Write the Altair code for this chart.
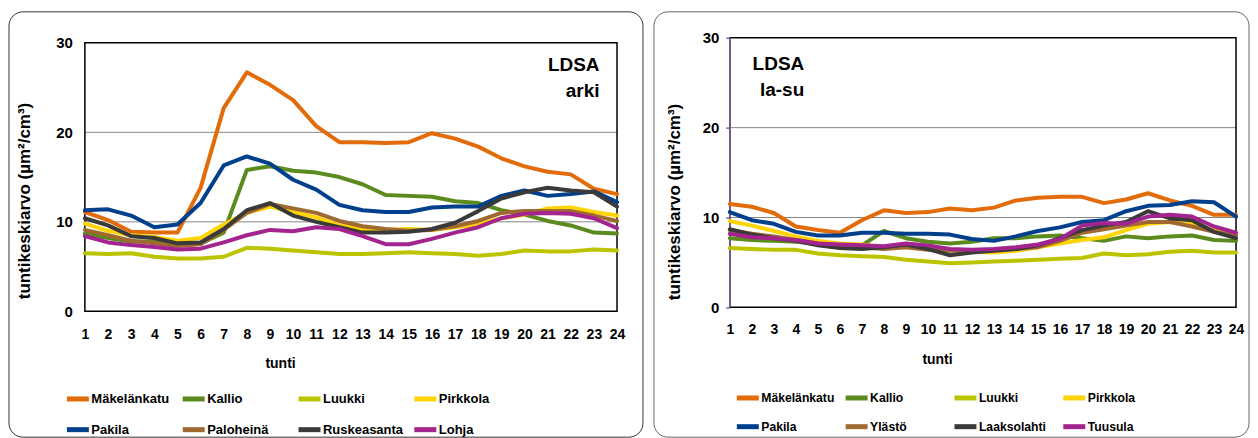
import altair as alt
import pandas as pd

# ---------------- data ----------------
hours = list(range(1, 25))
y_ticks = [0, 10, 20, 30]
grid_values = [10, 20]

left_names = ["Mäkelänkatu", "Kallio", "Luukki", "Pirkkola", "Pakila", "Paloheinä", "Ruskeasanta", "Lohja"]
right_names = ["Mäkelänkatu", "Kallio", "Luukki", "Pirkkola", "Pakila", "Ylästö", "Laaksolahti", "Tuusula"]
colors = ["#E36C0A", "#5B8A1E", "#BCC400", "#FFD400", "#003F8C", "#A0692F", "#3A3A3A", "#A3238F"]

left_label = ["LDSA", "arki"]
right_label = ["LDSA", "la-su"]
x_title = "tunti"
y_title = "tuntikeskiarvo (µm²/cm³)"

# weekday (arki)
arki_makelankatu = [11.1, 10.2, 8.9, 8.8, 8.8, 13.8, 22.7, 26.7, 25.3, 23.6, 20.7, 18.9, 18.9, 18.8, 18.9, 19.9, 19.3, 18.4, 17.1, 16.2, 15.6, 15.3, 13.7, 13.1]
arki_kallio = [8.7, 8.2, 7.8, 7.8, 7.4, 7.6, 8.8, 15.8, 16.2, 15.7, 15.5, 15.0, 14.2, 13.0, 12.9, 12.8, 12.3, 12.1, 11.3, 10.8, 10.1, 9.6, 8.8, 8.7]
arki_luukki = [6.5, 6.4, 6.5, 6.1, 5.9, 5.9, 6.1, 7.1, 7.0, 6.8, 6.6, 6.4, 6.4, 6.5, 6.6, 6.5, 6.4, 6.2, 6.4, 6.8, 6.7, 6.7, 6.9, 6.8]
arki_pirkkola = [9.8, 9.0, 8.5, 8.3, 7.9, 8.2, 9.7, 11.0, 11.7, 11.1, 10.5, 9.6, 9.2, 9.1, 9.2, 9.1, 9.4, 9.7, 10.4, 10.8, 11.5, 11.6, 11.1, 10.7]
arki_pakila = [11.3, 11.4, 10.7, 9.4, 9.7, 12.1, 16.3, 17.3, 16.5, 14.7, 13.6, 11.9, 11.3, 11.1, 11.1, 11.6, 11.7, 11.7, 12.9, 13.5, 12.9, 13.1, 13.4, 12.2]
arki_paloheina = [9.1, 8.5, 7.9, 7.6, 7.3, 7.5, 9.1, 11.0, 12.0, 11.5, 11.0, 10.1, 9.5, 9.2, 9.0, 9.1, 9.5, 10.1, 11.0, 11.2, 11.2, 11.2, 10.7, 10.1]
arki_ruskeasanta = [10.4, 9.6, 8.4, 8.2, 7.6, 7.7, 9.2, 11.3, 12.1, 10.7, 10.0, 9.4, 8.8, 8.8, 8.9, 9.2, 9.9, 11.2, 12.6, 13.3, 13.8, 13.5, 13.3, 11.7]
arki_lohja = [8.4, 7.7, 7.4, 7.2, 6.9, 7.0, 7.7, 8.5, 9.1, 8.95, 9.4, 9.2, 8.4, 7.5, 7.5, 8.1, 8.8, 9.4, 10.4, 10.9, 11.0, 10.9, 10.4, 9.3]

# weekend (la-su)
lasu_makelankatu = [11.5, 11.2, 10.5, 9.0, 8.6, 8.3, 9.7, 10.8, 10.5, 10.6, 11.0, 10.8, 11.1, 11.9, 12.2, 12.3, 12.3, 11.6, 12.0, 12.7, 11.9, 11.3, 10.3, 10.3]
lasu_kallio = [7.7, 7.5, 7.4, 7.3, 7.1, 6.9, 6.9, 8.5, 7.7, 7.3, 7.1, 7.3, 7.7, 7.7, 7.9, 8.0, 7.7, 7.4, 7.9, 7.7, 7.9, 8.0, 7.5, 7.4]
lasu_luukki = [6.6, 6.5, 6.4, 6.4, 6.0, 5.8, 5.7, 5.6, 5.3, 5.1, 4.9, 5.0, 5.1, 5.2, 5.3, 5.4, 5.5, 6.0, 5.8, 5.9, 6.2, 6.3, 6.1, 6.1]
lasu_pirkkola = [9.6, 9.1, 8.5, 7.9, 7.4, 7.1, 7.0, 6.7, 6.7, 6.6, 6.4, 6.2, 6.1, 6.3, 6.7, 7.1, 7.5, 7.8, 8.6, 9.3, 9.5, 9.3, 8.6, 8.2]
lasu_pakila = [10.6, 9.7, 9.3, 8.4, 8.0, 8.0, 8.3, 8.3, 8.2, 8.2, 8.1, 7.6, 7.4, 7.9, 8.5, 8.9, 9.5, 9.7, 10.7, 11.3, 11.4, 11.8, 11.7, 10.1]
lasu_ylasto = [8.6, 8.2, 7.9, 7.5, 7.1, 6.9, 6.7, 6.5, 6.7, 6.4, 6.3, 6.3, 6.4, 6.5, 6.7, 7.4, 8.3, 8.7, 9.1, 9.5, 9.5, 9.0, 8.4, 8.0]
lasu_laaksolahti = [8.7, 8.1, 7.7, 7.4, 6.9, 6.6, 6.5, 6.7, 7.0, 6.5, 5.8, 6.1, 6.3, 6.5, 6.9, 7.7, 8.6, 9.1, 9.5, 10.7, 9.9, 9.7, 8.4, 7.7]
lasu_tuusula = [8.2, 7.8, 7.7, 7.5, 7.1, 7.0, 6.9, 6.8, 7.1, 6.9, 6.5, 6.4, 6.5, 6.7, 7.0, 7.6, 9.1, 9.4, 9.3, 10.1, 10.3, 10.1, 9.0, 8.3]

left_series = [arki_makelankatu, arki_kallio, arki_luukki, arki_pirkkola,
               arki_pakila, arki_paloheina, arki_ruskeasanta, arki_lohja]
right_series = [lasu_makelankatu, lasu_kallio, lasu_luukki, lasu_pirkkola,
                lasu_pakila, lasu_ylasto, lasu_laaksolahti, lasu_tuusula]

FONT = "Liberation Sans, Arial, sans-serif"
PURPLE = "#7E5AA2"


def long_df(names, series):
    rows = []
    for n, vals in zip(names, series):
        for h, v in zip(hours, vals):
            rows.append({"station": n, "hour": h, "val": v})
    return pd.DataFrame(rows)


def panel(names, series, labels, w, view_h, plot_top, frame, legend_pos, col_pad, row_pad,
          leg_font, ann_x, ann_y, xlab_pad, xtitle_x, ytitle_x, ytitle_y, purple_axis, frame_color):
    df = long_df(names, series)
    xscale = alt.Scale(domain=[1, 24], nice=False, zero=False)
    yscale = alt.Scale(domain=[0, 30], nice=False, range=[view_h, plot_top])
    x_axis = alt.Axis(values=hours, format="d", title=x_title, grid=False,
                      ticks=False, domain=False, labelFlush=False, labelOverlap=False,
                      labelFont=FONT, labelFontSize=14, labelFontWeight="bold",
                      labelColor="black", labelPadding=xlab_pad,
                      titleFont=FONT, titleFontSize=14, titleFontWeight="bold",
                      titleColor="black", titleX=xtitle_x, titleY=56,
                      titleBaseline="alphabetic", titleAlign="center")
    y_kw = dict(values=y_ticks, title=y_title, grid=False, domain=False,
                labelFont=FONT, labelFontSize=15, labelFontWeight="bold",
                labelColor="black", labelBaseline="middle",
                titleFont=FONT, titleFontSize=17, titleFontWeight="bold",
                titleColor="black", titleAngle=270, titleX=ytitle_x, titleY=ytitle_y,
                titleAlign="center", titleBaseline="middle")
    if purple_axis:
        y_kw.update(ticks=True, tickColor=PURPLE, tickSize=4, tickWidth=1.5,
                    labelPadding=7, zindex=1)
    else:
        y_kw.update(ticks=False, labelPadding=12.5)
    y_axis = alt.Axis(**y_kw)

    legend = alt.Legend(orient="none", legendX=legend_pos[0], legendY=legend_pos[1],
                        columns=4, direction="horizontal", title=None,
                        symbolType="stroke", symbolSize=484,
                        symbolStrokeWidth=5, labelFont=FONT, labelFontSize=leg_font,
                        labelFontWeight="bold", labelColor="black", labelOffset=0,
                        columnPadding=col_pad, rowPadding=row_pad, gridAlign="all",
                        padding=0, labelLimit=300)
    color = alt.Color("station:N", scale=alt.Scale(domain=names, range=colors), legend=legend)
    x_enc = alt.X("hour:Q", scale=xscale, axis=x_axis)
    y_enc = alt.Y("val:Q", scale=yscale, axis=y_axis)

    layers = []
    # rounded outer frame
    layers.append(
        alt.Chart(alt.Data(values=[{}])).mark_rect(
            filled=False, stroke=frame_color, strokeWidth=1, cornerRadius=14
        ).encode(x=alt.value(frame[0]), x2=alt.value(frame[1]),
                 y=alt.value(frame[2]), y2=alt.value(frame[3]))
    )
    # grid lines
    layers.append(
        alt.Chart(pd.DataFrame({"val": grid_values})).mark_rule(
            color="#858585", strokeWidth=1
        ).encode(y=y_enc)
    )
    # plot-area border
    layers.append(
        alt.Chart(alt.Data(values=[{}])).mark_rect(
            filled=False, stroke="black", strokeWidth=1.5
        ).encode(x=alt.value(0), x2=alt.value(w),
                 y=alt.value(plot_top), y2=alt.value(view_h))
    )
    if purple_axis:
        layers.append(
            alt.Chart(alt.Data(values=[{}])).mark_rule(
                color=PURPLE, strokeWidth=1.5
            ).encode(x=alt.value(0), y=alt.value(plot_top), y2=alt.value(view_h))
        )
    for n in names:
        layers.append(
            alt.Chart(df).transform_filter(alt.datum.station == n).mark_line(
                strokeWidth=4, strokeJoin="round", strokeCap="round"
            ).encode(x=x_enc, y=y_enc, color=color)
        )
    for i, txt in enumerate(labels):
        layers.append(
            alt.Chart(alt.Data(values=[{}])).mark_text(
                align="right", baseline="middle", font=FONT, fontSize=19,
                fontWeight="bold", color="black"
            ).encode(x=alt.value(ann_x), y=alt.value(ann_y[i]), text=alt.value(txt))
        )
    return alt.layer(*layers).properties(width=w, height=view_h)


left = panel(left_names, left_series, left_label, 533, 300, 31,
             frame=(-76, 559, 0, 426), legend_pos=(-20.5, 374),
             col_pad=0, row_pad=7, leg_font=13, ann_x=515.5, ann_y=(53, 79),
             xlab_pad=16, xtitle_x=195.5, ytitle_x=-60.5, ytitle_y=189,
             purple_axis=False, frame_color="#333333")
right = panel(right_names, right_series, right_label, 507, 296, 26,
              frame=(-76, 520, 0, 426), legend_pos=(4.5, 373),
              col_pad=0, row_pad=5, leg_font=12.2, ann_x=74.5, ann_y=(52, 78),
              xlab_pad=15, xtitle_x=207.5, ytitle_x=-55, ytitle_y=190,
              purple_axis=True, frame_color="#666666")

chart = alt.hconcat(left, right, spacing=9).resolve_scale(color="independent").properties(
    padding={"left": 0, "top": 2.5, "right": 0, "bottom": 0},
    background="white",
).configure_view(stroke=None)

chart.save("out.html", embed_options={"renderer": "svg", "actions": False})
